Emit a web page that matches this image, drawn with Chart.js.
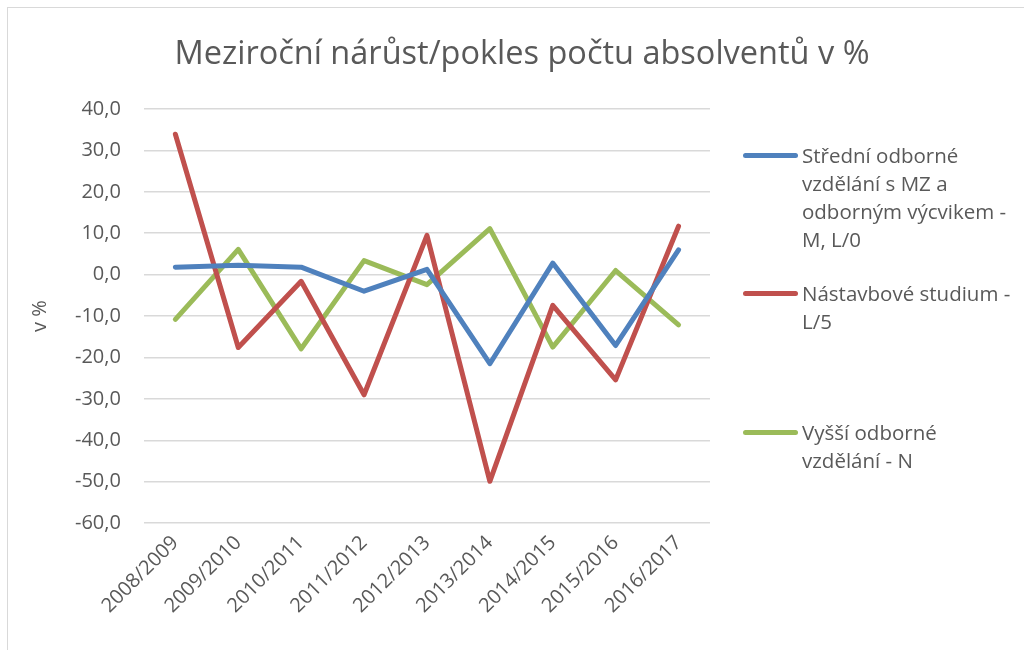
<!DOCTYPE html>
<html lang="cs">
<head>
<meta charset="UTF-8">
<title>Meziroční nárůst/pokles počtu absolventů v %</title>
<script src="https://cdn.jsdelivr.net/npm/chart.js"></script>
<style>
    * { margin: 0; padding: 0; box-sizing: border-box; }
    body { background: #fff; width: 1024px; height: 650px; overflow: hidden; font-family: 'Open Sans', sans-serif; }
    .frame { position: absolute; left: 7px; top: 7px; width: 1030px; height: 660px; border: 1px solid #d9d9d9; }
    .wrap { position: absolute; left: 0; top: 0; width: 1024px; height: 650px; }
    .title { position: absolute; left: 0; top: 30px; width: 1044px; text-align: center; color: #595959; font-size: 32.5px; line-height: 44px; white-space: nowrap; }
    .legend { position: absolute; left: 743px; top: 0; color: #595959; font-size: 20.5px; line-height: 28px; }
    .legend-item { position: absolute; left: 0; display: flex; align-items: flex-start; white-space: nowrap; }
    .legend-item .swatch { width: 55px; height: 5px; border-radius: 3px; margin-top: 12px; margin-right: 4px; flex: none; }
</style>
</head>
<body>
<div class="frame"></div>
<div class="wrap"><canvas id="chart" width="1024" height="650"></canvas></div>
<div class="title">Meziroční nárůst/pokles počtu absolventů v %</div>
<div class="legend" id="legend"></div>
<script>
    const years = ['2008/2009', '2009/2010', '2010/2011', '2011/2012', '2012/2013', '2013/2014', '2014/2015', '2015/2016', '2016/2017'];

    // series names, split into the lines shown in the legend
    const nameSOV = ['Střední odborné', 'vzdělání s MZ a', 'odborným výcvikem -', 'M, L/0'];
    const nameNast = ['Nástavbové studium -', 'L/5'];
    const nameVOV = ['Vyšší odborné', 'vzdělání - N'];

    const valuesSOV = [1.8, 2.3, 1.8, -4.0, 1.3, -21.5, 2.8, -17.1, 6.0];
    const valuesNast = [33.9, -17.6, -1.6, -29.0, 9.5, -49.9, -7.4, -25.4, 11.7];
    const valuesVOV = [-10.8, 6.1, -17.9, 3.4, -2.4, 11.1, -17.5, 1.0, -12.1];

    const yMin = -60, yMax = 40, yStep = 10;

    const textColor = '#595959';
    const font = "'Open Sans', sans-serif";

    const series = [
        { name: nameSOV, data: valuesSOV, color: '#4f81bd', top: 141 },
        { name: nameNast, data: valuesNast, color: '#c0504d', top: 279 },
        { name: nameVOV, data: valuesVOV, color: '#9bbb59', top: 418 }
    ];

    new Chart(document.getElementById('chart'), {
        type: 'line',
        data: {
            labels: years,
            datasets: series.map(s => ({
                label: s.name.join(' '),
                data: s.data,
                borderColor: s.color,
                backgroundColor: s.color,
                borderWidth: 5,
                pointRadius: 0,
                tension: 0,
                borderCapStyle: 'round',
                borderJoinStyle: 'round'
            }))
        },
        options: {
            responsive: false,
            animation: false,
            layout: { padding: { left: 28, right: 314, top: 109, bottom: 24 } },
            plugins: {
                legend: { display: false },
                tooltip: { enabled: false },
                title: { display: false }
            },
            scales: {
                x: {
                    offset: true,
                    grid: { display: false, drawTicks: false },
                    border: { display: false },
                    ticks: {
                        color: textColor,
                        font: { family: font, size: 20 },
                        minRotation: 45,
                        maxRotation: 45,
                        padding: 8
                    }
                },
                y: {
                    min: yMin,
                    max: yMax,
                    grid: { color: '#d9d9d9', lineWidth: 1.5, drawTicks: false },
                    border: { display: false },
                    ticks: {
                        stepSize: yStep,
                        color: textColor,
                        font: { family: font, size: 20 },
                        padding: 23,
                        callback: v => v.toFixed(1).replace('.', ',')
                    },
                    title: {
                        display: true,
                        text: 'v %',
                        color: textColor,
                        font: { family: font, size: 20 },
                        padding: { top: 0, bottom: 0 }
                    }
                }
            }
        }
    });

    // legend with wrapped names on the right
    const legend = document.getElementById('legend');
    series.forEach(s => {
        const item = document.createElement('div');
        item.className = 'legend-item';
        item.style.top = s.top + 'px';
        const sw = document.createElement('div');
        sw.className = 'swatch';
        sw.style.background = s.color;
        const txt = document.createElement('div');
        txt.innerHTML = s.name.join('<br>');
        item.appendChild(sw);
        item.appendChild(txt);
        legend.appendChild(item);
    });
</script>
</body>
</html>
